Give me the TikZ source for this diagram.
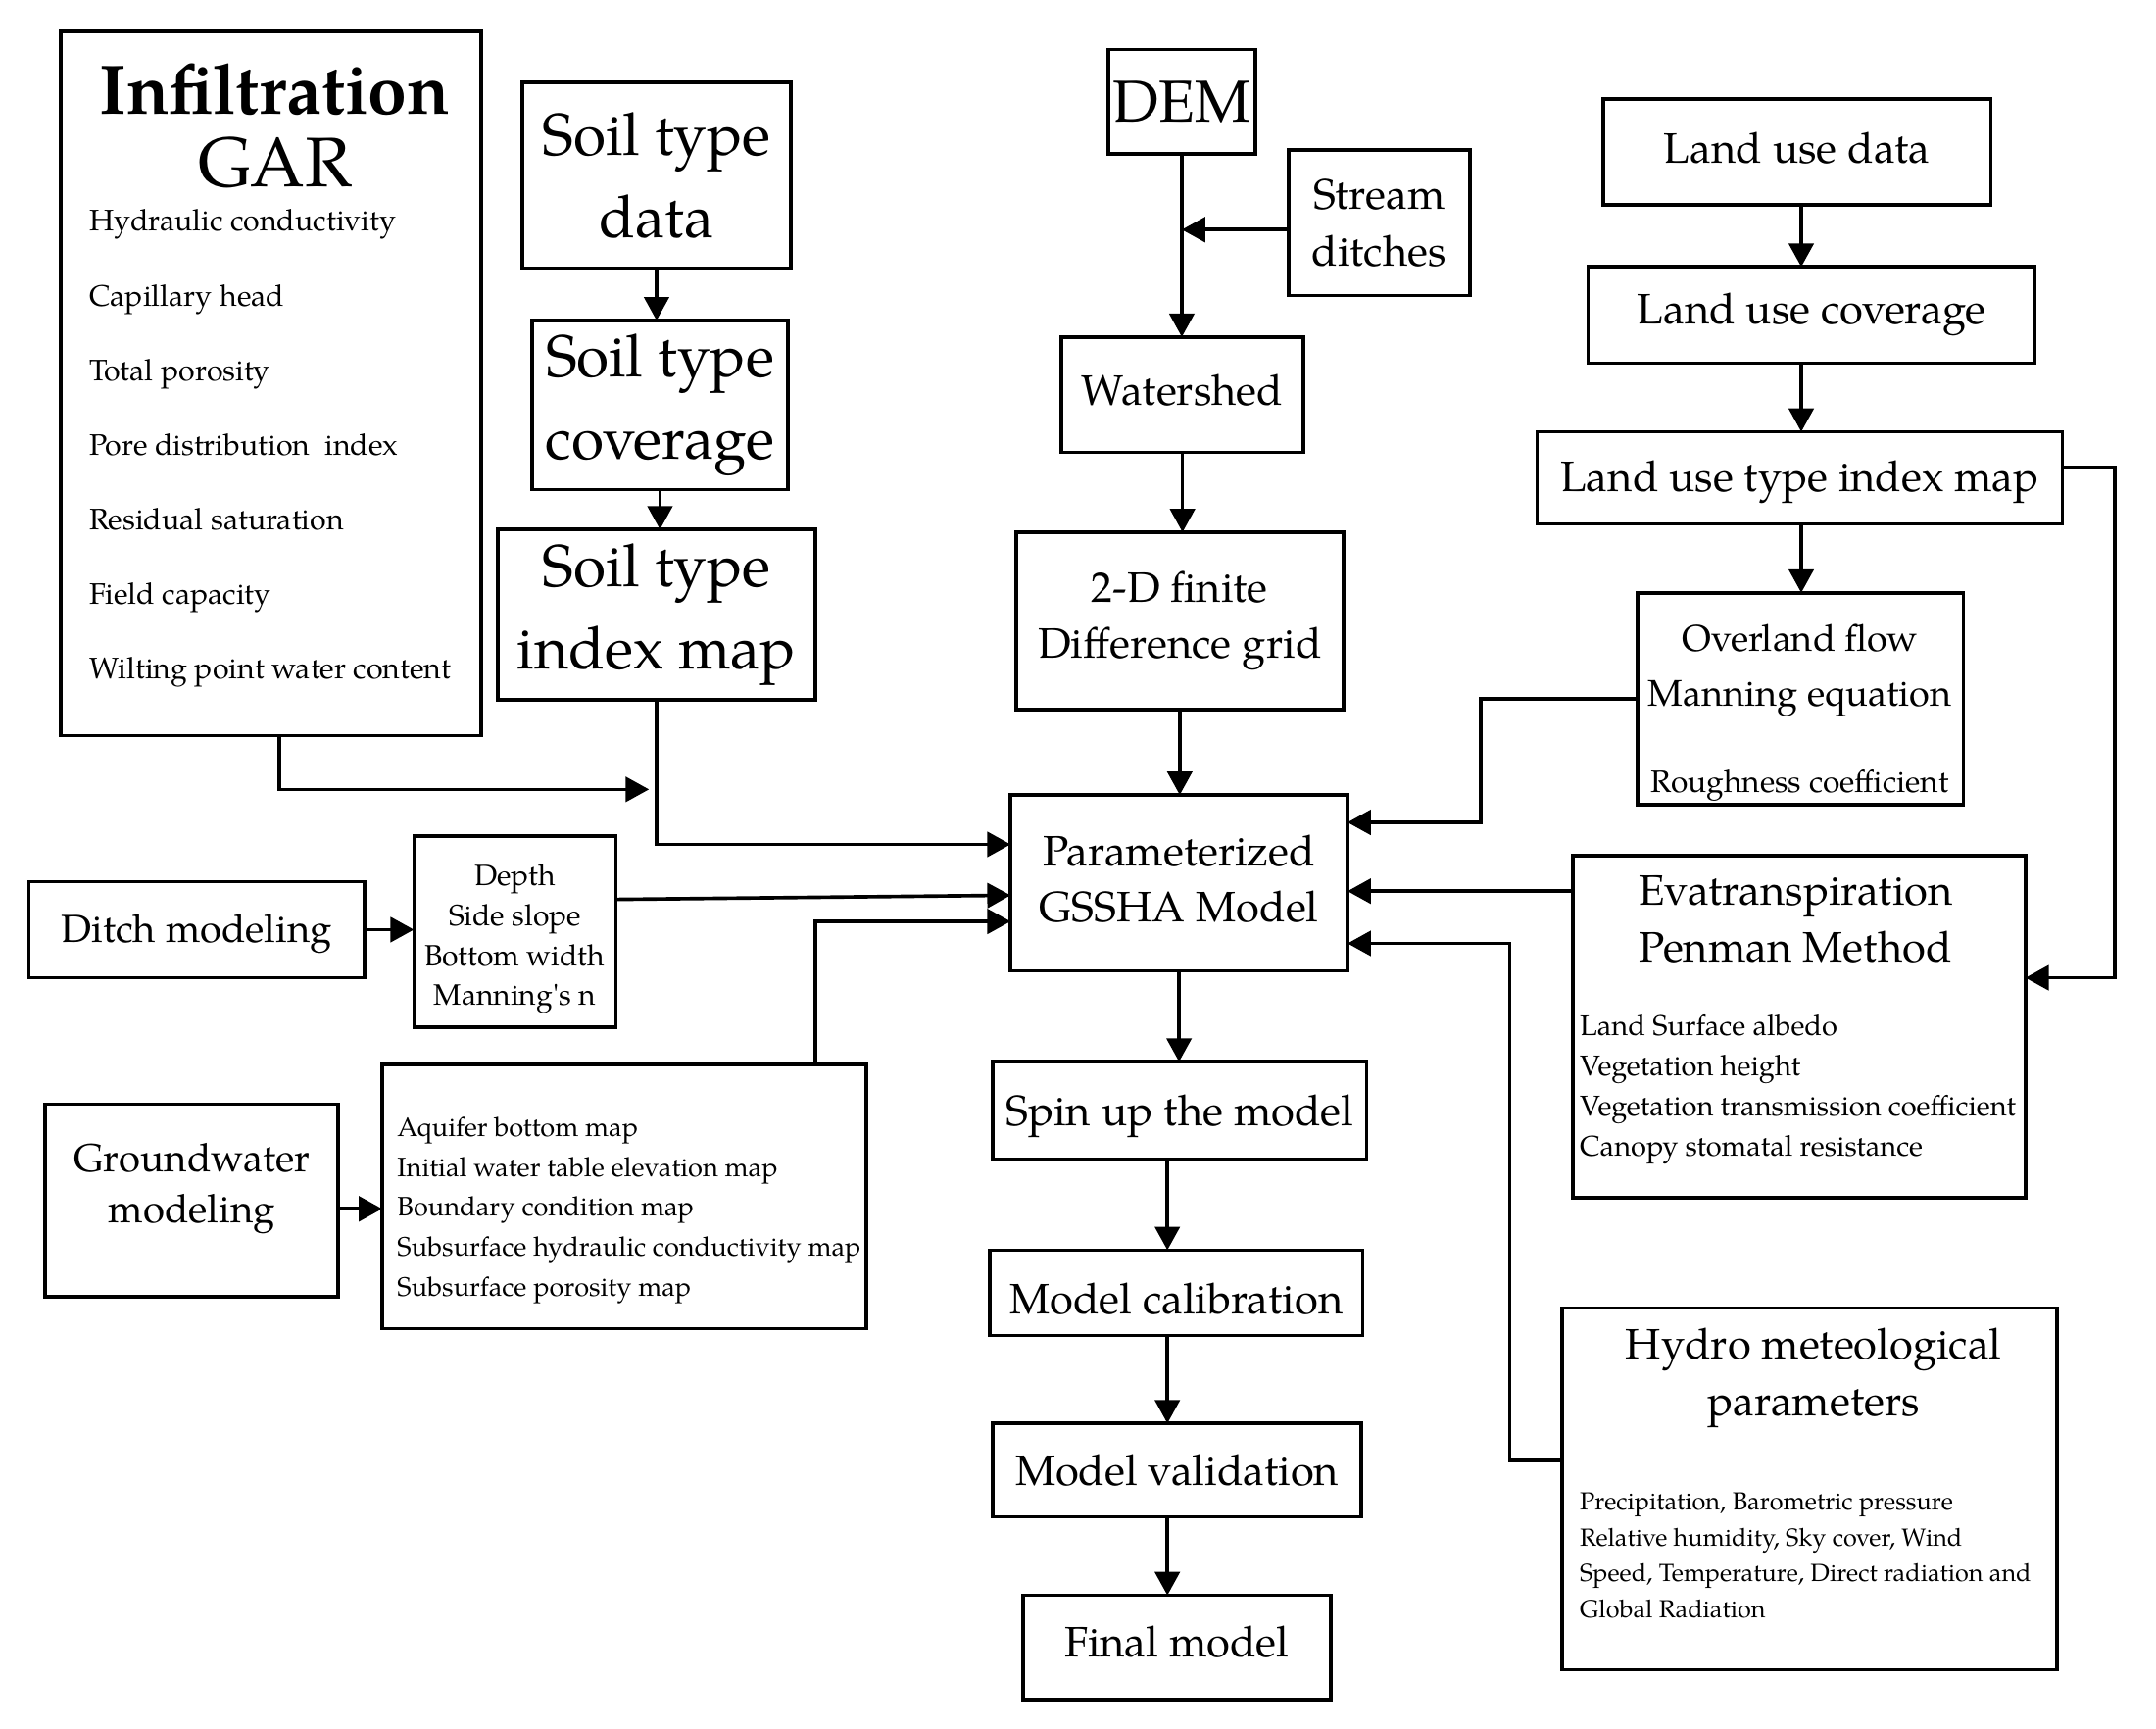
\documentclass[tikz,border=0pt]{standalone}
\usepackage{fontspec}
\setmainfont{texgyrepagella}[Extension=.otf,UprightFont=*-regular,BoldFont=*-bold,ItalicFont=*-italic,BoldItalicFont=*-bolditalic]
\newfontfamily\aposfont{texgyrepagella}[Extension=.otf,UprightFont=*-regular,Ligatures=TeXOff]
\usetikzlibrary{arrows.meta}
\newcommand\myfs[2]{\fontsize{#1}{#2}\selectfont}
\newcommand\dn[2]{\raisebox{-#1pt}[\height][\depth]{#2}}
\begin{document}
\begin{tikzpicture}[x=1pt,y=-1pt,
  box/.style={draw, line width=2.6pt, inner sep=0pt, outer sep=0pt, align=center},
  arr/.style={line width=2.6pt, -{Triangle[length=17pt,width=18pt]}},
  txt/.style={inner sep=0pt, outer sep=0pt},
  big/.style={font=\myfs{43}{60}},
  mid/.style={font=\myfs{31}{41}}]
\useasboundingbox (0,0) rectangle (1568,1257.2);

% ---------- left column ----------
\node[box, minimum width=306pt, minimum height=512pt] (infil) at (197,279) {};
\node[txt, align=center, font=\myfs{51}{53}] (inftitle) at (200,91.5) {\bfseries Infiltration\\GAR};
\node[txt, align=left, anchor=west, font=\myfs{21.6}{54.2}] (inflist) at (65,326)
  {Hydraulic conductivity\\Capillary head\\Total porosity\\Pore distribution\ \ index\\Residual saturation\\Field capacity\\Wilting point water content};

\node[box, big, minimum width=195pt, minimum height=135pt] (sdata) at (477.5,127.5) {Soil type\\data};
\node[box, big, minimum width=186pt, minimum height=123pt] (scov) at (480,294.5) {Soil type\\coverage};
\node[box, big, minimum width=231pt, minimum height=124pt] (sidx) at (477.5,447) {Soil type\\index map};

\node[box, font=\myfs{28.5}{37}, minimum width=244pt, minimum height=70pt] (ditch) at (143,676) {\dn{3}{Ditch modeling}};
\node[box, minimum width=147pt, minimum height=139pt] (depth) at (374.5,677.5) {};
\node[txt, align=center, font=\myfs{21.4}{29}] (depthtext) at (374.5,683) {Depth\\Side slope\\Bottom width\\Manning{\aposfont'}s n};

\node[box, minimum width=213pt, minimum height=140pt] (gw) at (139.5,873) {};
\node[txt, align=center, font=\myfs{28.6}{37}] (gwtext) at (139.5,864) {Groundwater\\modeling};
\node[box, minimum width=352pt, minimum height=192pt] (aqui) at (454,870) {};
\node[txt, align=left, anchor=west, font=\myfs{19.4}{29}] (aquilist) at (289,880)
  {Aquifer bottom map\\Initial water table elevation map\\Boundary condition map\\Subsurface hydraulic conductivity map\\Subsurface porosity map};

% ---------- centre column ----------
\node[box, font=\myfs{43}{50}, minimum width=107pt, minimum height=76pt] (dem) at (859.5,74) {DEM};
\node[box, mid, minimum width=132pt, minimum height=106pt] (stream) at (1003,162) {Stream\\ditches};
\node[box, mid, minimum width=176pt, minimum height=84pt] (wshed) at (860,287) {\dn{-3}{Watershed}};
\node[box, mid, minimum width=238pt, minimum height=129pt] (grid) at (858,451.5) {2-D finite\\Difference grid};
\node[box, minimum width=245pt, minimum height=128pt] (param) at (857.5,642) {};
\node[txt, align=center, mid] (paramtext) at (857.5,639) {Parameterized\\GSSHA Model};
\node[box, mid, minimum width=272pt, minimum height=71pt] (spin) at (858,807.5) {\dn{4}{Spin up the model}};
\node[box, mid, minimum width=271pt, minimum height=62pt] (calib) at (855.5,940) {\dn{4.5}{Model calibration}};
\node[box, mid, minimum width=268pt, minimum height=68pt] (valid) at (856,1069) {Model validation};
\node[box, mid, minimum width=224pt, minimum height=76pt] (final) at (856,1198) {\dn{-4}{Final model}};

% ---------- right column ----------
\node[box, mid, minimum width=282pt, minimum height=77pt] (lud) at (1307,110.5) {\dn{-3}{Land use data}};
\node[box, mid, minimum width=325pt, minimum height=70pt] (luc) at (1317.5,229) {Land use coverage};
\node[box, mid, minimum width=382pt, minimum height=67pt] (luti) at (1309,347.5) {\dn{3}{Land use type index map}};

\node[box, minimum width=237pt, minimum height=154pt] (over) at (1309.5,508) {};
\node[txt, align=center, font=\myfs{27}{40}] (overtitle) at (1309,487.5) {Overland flow\\Manning equation};
\node[txt, font=\myfs{22.6}{26}] (overrough) at (1309,571) {Roughness coefficient};

\node[box, minimum width=329pt, minimum height=249pt] (evap) at (1308.5,746.5) {};
\node[txt, align=center, mid] (evaptitle) at (1306,668.5) {Evatranspiration\\Penman Method};
\node[txt, align=left, anchor=west, font=\myfs{20.7}{29.3}] (evaplist) at (1149,792)
  {Land Surface albedo\\Vegetation height\\Vegetation transmission coefficient\\Canopy stomatal resistance};

\node[box, minimum width=360pt, minimum height=263pt] (hydro) at (1316,1082.5) {};
\node[txt, align=center, mid] (hydrotitle) at (1319,1002) {Hydro meteological\\parameters};
\node[txt, align=left, anchor=west, font=\myfs{18}{26}] (hydrolist) at (1149,1131)
  {Precipitation, Barometric pressure\\Relative humidity, Sky cover, Wind\\Speed, Temperature, Direct radiation and\\Global Radiation};

% ---------- helper coordinates ----------
\coordinate (j1) at (472,574);
\coordinate (colx) at (849,0);
\coordinate (rcol) at (1310,0);
\coordinate (rx) at (1538,0);
\coordinate (bx) at (1077,0);
\coordinate (dx) at (1098,0);
\coordinate (s1) at ([yshift=-5pt]stream.west);
\coordinate (p1) at ([yshift=28pt]param.west);
\coordinate (p2) at ([yshift=-9pt]param.west);
\coordinate (p3) at ([yshift=-28pt]param.west);
\coordinate (q1) at ([yshift=44pt]param.east);
\coordinate (q2) at ([yshift=-44pt]param.east);
\coordinate (dp1) at ([yshift=23.5pt]depth.east);
\coordinate (aq1) at ([xshift=139pt]aqui.north);
\coordinate (gw1) at ([yshift=-6pt]gw.east);
\coordinate (a1) at ([yshift=7.5pt]luti.east);
\coordinate (a2) at ([yshift=35.5pt]evap.east);
\coordinate (c1) at ([yshift=98.5pt]evap.west);
\coordinate (d1) at ([yshift=20.5pt]hydro.west);

% ---------- connectors ----------
\draw[arr] (sdata.south) -- (sdata.south |- scov.north);
\draw[arr] (scov.south) -- (scov.south |- sidx.north);
\draw[arr] ([xshift=6pt]infil.south) |- (j1);
\draw[arr] (sidx.south) |- (p1);
\draw[arr] (dp1) -- (p2);
\draw[arr] (aq1) |- (p3);
\draw[arr] (ditch.east) -- (ditch.east -| depth.west);
\draw[arr] (gw1) -- (gw1 -| aqui.west);

\draw[arr] (dem.south) -- (dem.south |- wshed.north);
\draw[arr] (s1) -- (s1 -| dem.south);
\draw[arr] (wshed.south) -- (wshed.south |- grid.north);
\draw[arr] (grid.south) -- (grid.south |- param.north);
\draw[arr] (param.south) -- (param.south |- spin.north);
\draw[arr] (colx |- spin.south) -- (colx |- calib.north);
\draw[arr] (colx |- calib.south) -- (colx |- valid.north);
\draw[arr] (colx |- valid.south) -- (colx |- final.north);

\draw[arr] (rcol |- lud.south) -- (rcol |- luc.north);
\draw[arr] (rcol |- luc.south) -- (rcol |- luti.north);
\draw[arr] (rcol |- luti.south) -- (rcol |- over.north);
\draw[arr] (a1) -- (a1 -| rx) -- (a2 -| rx) -- (a2);
\draw[arr] (over.west) -- (over.west -| bx) -- (q1 -| bx) -- (q1);
\draw[arr] (c1) -- (c1 -| param.east);
\draw[arr] (d1) -- (d1 -| dx) -- (q2 -| dx) -- (q2);
\end{tikzpicture}
\end{document}
